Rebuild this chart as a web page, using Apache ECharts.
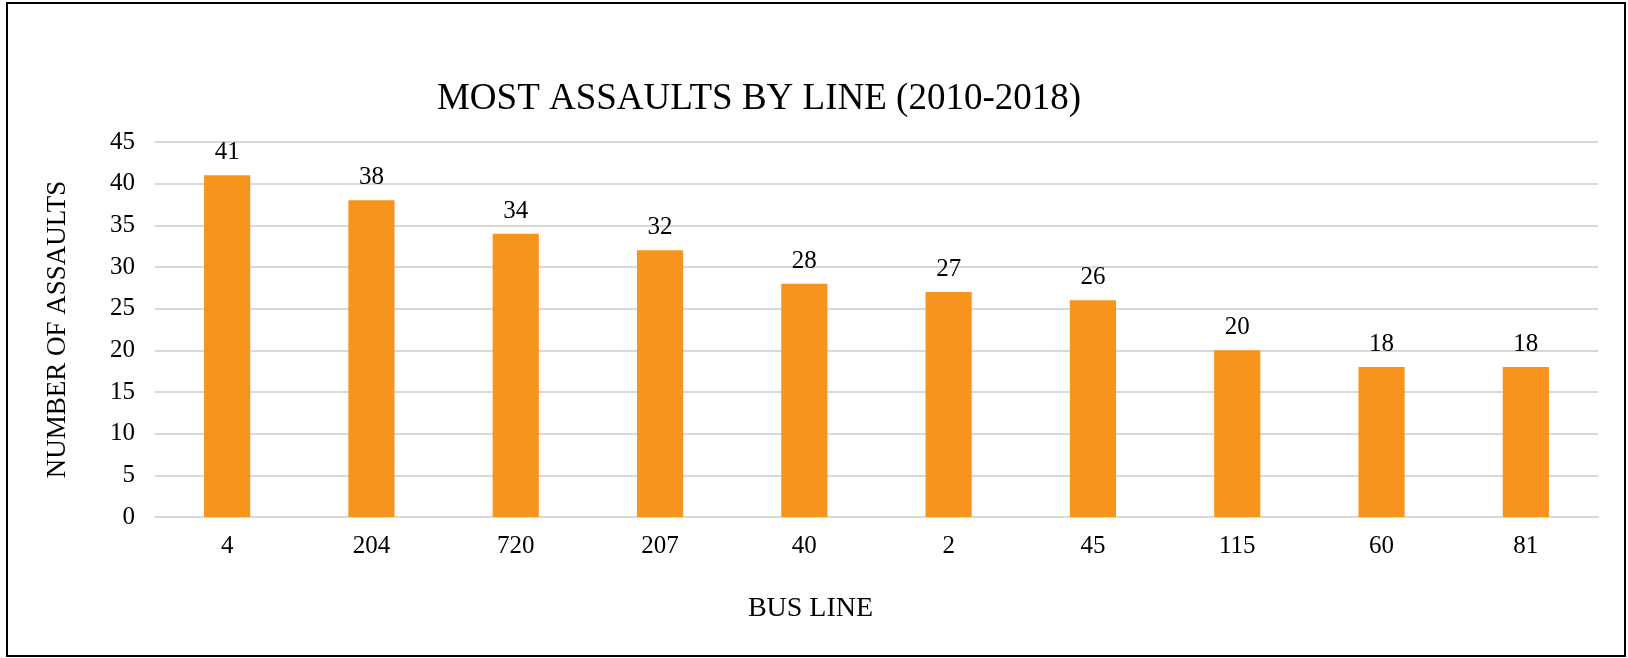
<!DOCTYPE html>
<html>
<head>
<meta charset="utf-8">
<script src="https://cdn.jsdelivr.net/npm/echarts@6/dist/echarts.min.js"></script>
<style>
html,body{margin:0;padding:0;background:#fff;}
#chart{width:1628px;height:658px;}
</style>
</head>
<body>
<div id="chart"></div>
<script>
var busLines = ['4', '204', '720', '207', '40', '2', '45', '115', '60', '81'];
var assaults = [41, 38, 34, 32, 28, 27, 26, 20, 18, 18];
var titleText = 'MOST ASSAULTS BY LINE (2010-2018)';
var xName = 'BUS LINE';
var yName = 'NUMBER OF ASSAULTS';

var FONT = '"Liberation Serif", "Times New Roman", serif';
var chart = echarts.init(document.getElementById('chart'));
chart.setOption({
  animation: false,
  backgroundColor: '#fff',
  title: {
    text: titleText,
    left: 754,
    textAlign: 'center',
    top: 76,
    textStyle: { fontFamily: FONT, fontSize: 37, fontWeight: 'normal', color: '#000' }
  },
  graphic: [{
    type: 'rect',
    shape: { x: 7, y: 3, width: 1618, height: 653 },
    style: { fill: 'none', stroke: '#000', lineWidth: 2 },
    silent: true
  }],
  grid: { left: 155, right: 30, top: 142, bottom: 141 },
  xAxis: {
    type: 'category',
    data: busLines,
    name: xName,
    nameLocation: 'middle',
    nameGap: 78,
    nameTextStyle: { fontFamily: FONT, fontSize: 28, color: '#000', padding: [0, 132, 0, 0] },
    axisLine: { show: true, lineStyle: { color: '#d9d9d9', width: 2 } },
    axisTick: { show: false },
    axisLabel: { fontFamily: FONT, fontSize: 25, color: '#000', margin: 17 }
  },
  yAxis: {
    type: 'value',
    min: 0,
    max: 45,
    interval: 5,
    name: yName,
    nameLocation: 'middle',
    nameGap: 84,
    nameTextStyle: { fontFamily: FONT, fontSize: 27, color: '#000' },
    axisLine: { show: false },
    axisTick: { show: false },
    splitLine: { lineStyle: { color: '#d9d9d9', width: 2 } },
    axisLabel: { fontFamily: FONT, fontSize: 25, color: '#000', margin: 20 }
  },
  series: [{
    type: 'bar',
    data: assaults,
    barWidth: '32%',
    itemStyle: { color: '#F7941E' },
    label: { show: true, position: 'top', distance: 10, fontFamily: FONT, fontSize: 25, color: '#000' }
  }]
});
</script>
</body>
</html>
